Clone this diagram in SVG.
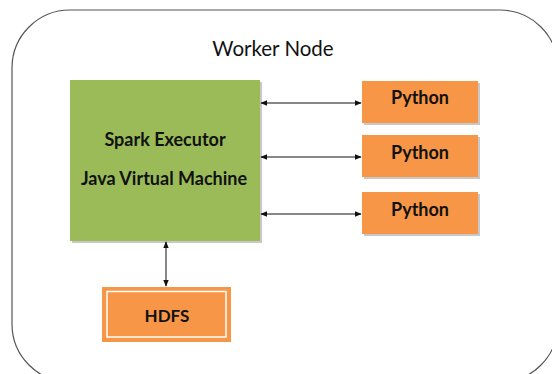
<svg xmlns="http://www.w3.org/2000/svg" width="552" height="374" viewBox="0 0 552 374">
<style>
.t{font-family:Lato,"Liberation Sans",sans-serif;font-weight:bold;fill:#111;text-anchor:middle;font-size:18px}
.sh{fill:#c8c8c8}
.g{fill:#9BBB59}
.o{fill:#F79646}
.c{stroke:#111;stroke-width:1;fill:none;marker-start:url(#a);marker-end:url(#a)}
</style>
<defs>
<marker id="a" viewBox="0 0 10 10" refX="9" refY="5" markerWidth="7" markerHeight="7" orient="auto-start-reverse" markerUnits="userSpaceOnUse">
<path d="M0,1 L10,5 L0,9 z" fill="#111"/>
</marker>
</defs>
<rect width="552" height="374" fill="#fff"/>
<g id="worker">
<rect x="12" y="10" width="546" height="372" rx="58" ry="58" fill="#fff" stroke="#555" stroke-width="1.2"/>
<text class="t" x="273" y="56" style="font-weight:normal;font-size:20.5px">Worker Node</text>
</g>
<g id="executor">
<rect class="sh" x="72" y="82" width="190" height="161"/>
<rect class="g" x="70" y="80" width="190" height="161"/>
<text class="t" x="165" y="145.5">Spark Executor</text>
<text class="t" x="164" y="184.5">Java Virtual Machine</text>
</g>
<g id="python1">
<rect class="sh" x="364" y="83" width="116" height="42"/>
<rect class="o" x="362" y="81" width="116" height="42"/>
<text class="t" x="420" y="104">Python</text>
</g>
<g id="python2">
<rect class="sh" x="364" y="137" width="116" height="42"/>
<rect class="o" x="362" y="135" width="116" height="42"/>
<text class="t" x="420" y="158.5">Python</text>
</g>
<g id="python3">
<rect class="sh" x="364" y="194" width="116" height="42"/>
<rect class="o" x="362" y="192" width="116" height="42"/>
<text class="t" x="420" y="215.5">Python</text>
</g>
<g id="hdfs">
<rect class="o" x="102" y="287" width="129" height="55"/>
<rect x="107" y="291.5" width="119" height="45.5" fill="none" stroke="#fff" stroke-width="1.5"/>
<text class="t" x="167" y="322" style="font-size:17px">HDFS</text>
</g>
<g id="connectors">
<line class="c" x1="261" y1="103" x2="361" y2="103"/>
<line class="c" x1="261" y1="157" x2="361" y2="157"/>
<line class="c" x1="261" y1="214" x2="361" y2="214"/>
<line class="c" x1="166" y1="242" x2="166" y2="286"/>
</g>
</svg>
